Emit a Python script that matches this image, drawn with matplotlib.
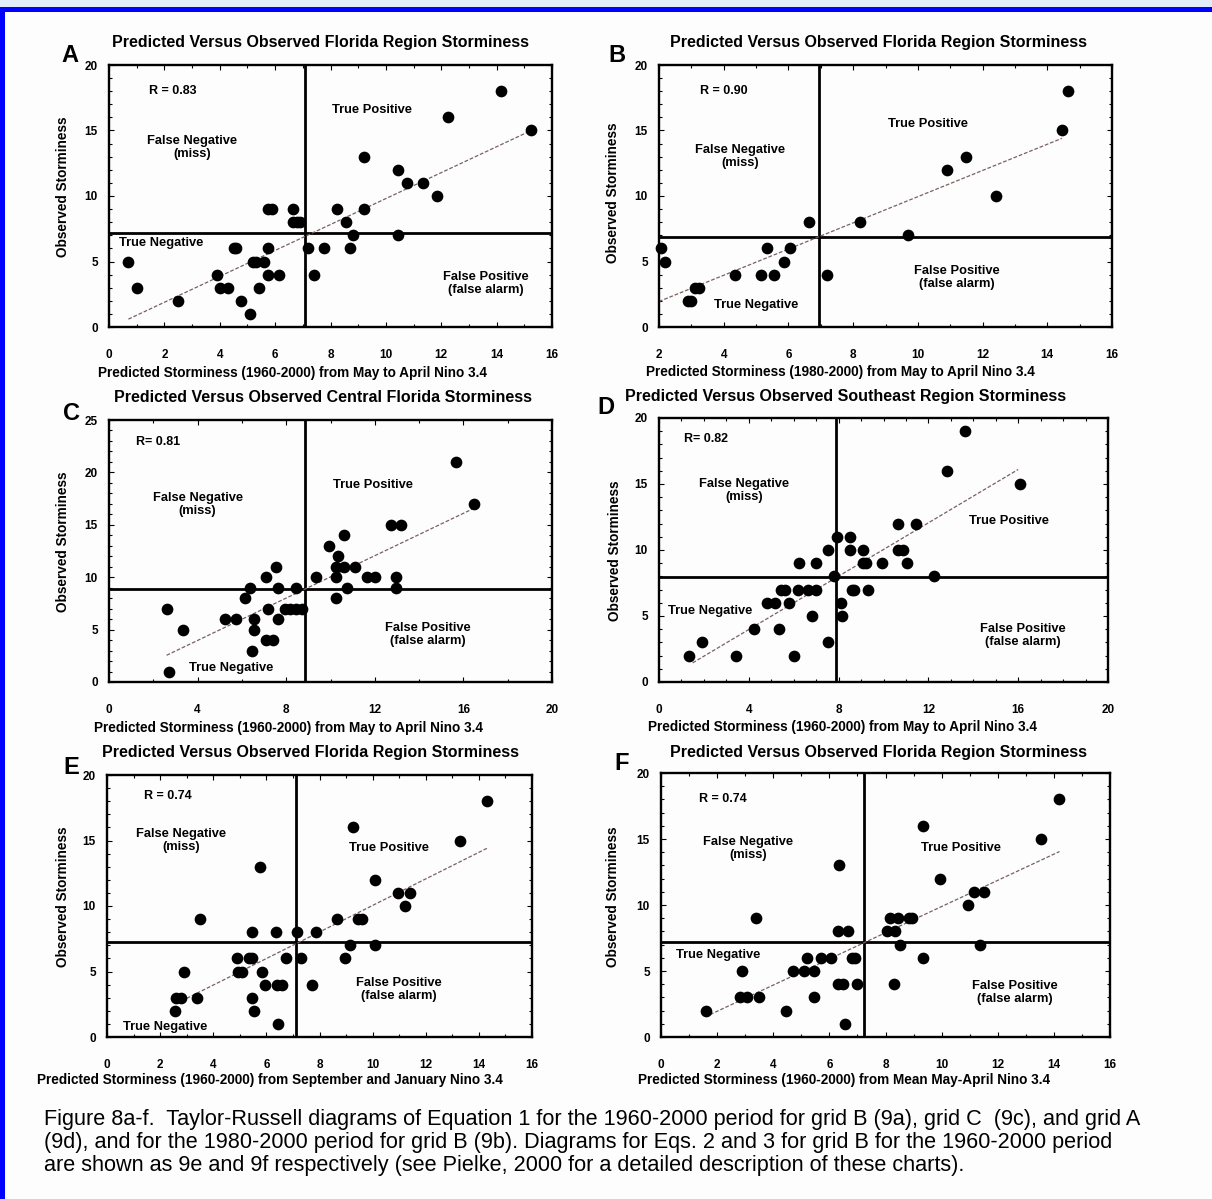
import matplotlib
matplotlib.use("Agg")
import matplotlib.pyplot as plt
from matplotlib.ticker import MultipleLocator
from matplotlib.patches import Rectangle

plt.rcParams['font.family'] = ['Liberation Sans', 'DejaVu Sans']

W, H = 1212, 1199

# ---- data ----
# A: Florida region, May-April Nino 3.4, 1960-2000
a_x = [0.7, 1.0, 2.5, 3.9, 4.0, 4.3, 4.5, 4.6, 4.75, 5.1, 5.2, 5.3, 5.6, 5.4, 5.75, 5.75, 6.15,
       5.75, 5.9, 6.65, 6.65, 6.8, 6.9, 7.2, 7.4, 7.75, 8.25, 8.55, 8.7, 8.8, 9.2, 9.2, 10.45,
       10.45, 10.75, 11.35, 11.85, 12.25, 14.15, 15.25]
a_y = [5, 3, 2, 4, 3, 3, 6, 6, 2, 1, 5, 5, 5, 3, 6, 4, 4,
       9, 9, 9, 8, 8, 8, 6, 4, 6, 9, 8, 6, 7, 9, 13, 12,
       7, 11, 11, 10, 16, 18, 15]
a_fit_x = [0.7, 15.25]
a_fit_y = [0.6, 15.0]
a_cut = (7.08, 7.2)

# B: Florida region, 1980-2000
b_x = [2.07, 2.2, 2.9, 3.0, 3.1, 3.25, 4.35, 5.15, 5.35, 5.55, 5.85, 6.05, 6.65, 7.2, 8.2,
       9.7, 10.9, 11.5, 12.4, 14.45, 14.65]
b_y = [6, 5, 2, 2, 3, 3, 4, 4, 6, 4, 5, 6, 8, 4, 8,
       7, 12, 13, 10, 15, 18]
b_fit_x = [2.0, 14.45]
b_fit_y = [1.95, 14.4]
b_cut = (6.95, 6.9)

# C: Central Florida
c_x = [2.6, 2.7, 3.35, 5.25, 5.75, 6.15, 6.35, 6.45, 6.55, 6.55, 7.1, 7.1, 7.4, 7.2, 7.55,
       7.65, 7.65, 7.95, 8.15, 8.45, 8.7, 8.45, 9.35, 9.95, 10.25, 10.25, 10.35, 10.25, 10.6,
       10.6, 10.75, 11.1, 11.65, 12.0, 12.75, 13.2, 12.95, 12.95, 15.65, 16.5]
c_y = [7, 1, 5, 6, 6, 8, 9, 3, 6, 5, 10, 4, 4, 7, 11,
       9, 6, 7, 7, 7, 7, 9, 10, 13, 10, 8, 12, 11, 11,
       14, 9, 11, 10, 10, 15, 15, 10, 9, 21, 17]
c_fit_x = [2.6, 16.4]
c_fit_y = [2.55, 16.5]
c_cut = (8.85, 8.85)

# D: Southeast region
d_x = [1.35, 1.9, 3.45, 4.25, 4.8, 5.15, 5.35, 5.45, 5.6, 5.8, 6.0, 6.2, 6.25, 6.65, 7.0,
       6.8, 7.0, 7.55, 7.55, 7.8, 7.95, 8.1, 8.15, 8.5, 8.5, 8.6, 8.7, 9.1, 9.1, 9.2, 9.3,
       9.95, 10.65, 10.65, 10.85, 11.05, 11.45, 12.25, 12.85, 13.65, 16.1]
d_y = [2, 3, 2, 4, 6, 6, 4, 7, 7, 6, 2, 7, 9, 7, 7,
       5, 9, 10, 3, 8, 11, 6, 5, 11, 10, 7, 7, 10, 9, 9, 7,
       9, 12, 10, 10, 9, 12, 8, 16, 19, 15]
d_fit_x = [1.5, 16.0]
d_fit_y = [1.45, 16.1]
d_cut = (7.9, 7.92)

# E: Florida region, September and January Nino 3.4
e_x = [2.55, 2.6, 2.8, 2.9, 3.4, 3.5, 4.9, 4.95, 5.1, 5.35, 5.45, 5.45, 5.45, 5.55, 5.75,
       5.85, 5.95, 6.35, 6.4, 6.6, 6.45, 6.75, 7.15, 7.3, 7.7, 7.85, 8.65, 8.95, 9.15, 9.25,
       9.45, 9.6, 10.1, 10.1, 10.95, 11.4, 11.2, 13.3, 14.3]
e_y = [2, 3, 3, 5, 3, 9, 6, 5, 5, 6, 6, 8, 3, 2, 13,
       5, 4, 8, 4, 4, 1, 6, 8, 6, 4, 8, 9, 6, 7, 16,
       9, 9, 12, 7, 11, 11, 10, 15, 18]
e_fit_x = [3.0, 14.3]
e_fit_y = [2.95, 14.4]
e_cut = (7.11, 7.26)

# F: Florida region, mean May-April Nino 3.4
f_x = [1.6, 2.8, 3.05, 2.9, 3.5, 3.4, 4.45, 4.7, 5.1, 5.45, 5.2, 5.45, 5.7, 6.05, 6.3,
       6.65, 6.35, 6.3, 6.5, 6.55, 6.8, 6.9, 7.0, 8.05, 8.35, 8.15, 8.45, 8.5, 8.3, 8.85,
       8.95, 9.35, 9.35, 9.95, 10.95, 11.15, 11.5, 11.35, 13.55, 14.2]
f_y = [2, 3, 3, 5, 3, 9, 2, 5, 5, 5, 6, 3, 6, 6, 8,
       8, 13, 4, 4, 1, 6, 6, 4, 8, 8, 9, 9, 7, 4, 9,
       9, 16, 6, 12, 10, 11, 11, 7, 15, 18]
f_fit_x = [1.75, 14.2]
f_fit_y = [1.7, 14.05]
f_cut = (7.22, 7.22)

TITLE_FL = 'Predicted Versus Observed Florida Region Storminess'
XL_MAY = 'Predicted Storminess (1960-2000) from May to April Nino 3.4'

panels = [
    dict(letter='A', x=a_x, y=a_y, fx=a_fit_x, fy=a_fit_y, cut=a_cut,
         box=(109, 552, 65, 327), xlim=(0, 16), ylim=(0, 20), xmaj=2, xmin=1, ymaj=5, ymin=1,
         title=TITLE_FL, tpos=(321, 43), lpos=(70, 56), ylpos=(63, 187),
         xlabel=XL_MAY, xlpos=(293, 373), r='R = 0.83', rpos=(2.3, 18.0),
         tp=(9.5, 16.6), fn=(3.0, 13.7), tn=(1.9, 6.4), fp=(13.6, 3.3)),
    dict(letter='B', x=b_x, y=b_y, fx=b_fit_x, fy=b_fit_y, cut=b_cut,
         box=(659, 1112, 65, 327), xlim=(2, 16), ylim=(0, 20), xmaj=2, xmin=1, ymaj=5, ymin=1,
         title=TITLE_FL, tpos=(878, 43), lpos=(617, 55), ylpos=(613, 193),
         xlabel='Predicted Storminess (1980-2000) from May to April Nino 3.4', xlpos=(840, 372),
         r='R = 0.90', rpos=(4.0, 18.0),
         tp=(10.3, 15.5), fn=(4.5, 13.0), tn=(5.0, 1.65), fp=(11.2, 3.8)),
    dict(letter='C', x=c_x, y=c_y, fx=c_fit_x, fy=c_fit_y, cut=c_cut,
         box=(109, 552, 420, 682), xlim=(0, 20), ylim=(0, 25), xmaj=4, xmin=2, ymaj=5, ymin=1,
         title='Predicted Versus Observed Central Florida Storminess', tpos=(323, 397),
         lpos=(72, 413), ylpos=(63, 542),
         xlabel=XL_MAY, xlpos=(288, 728), r='R= 0.81', rpos=(2.2, 22.9),
         tp=(11.9, 18.8), fn=(4.0, 16.9), tn=(5.5, 1.35), fp=(14.4, 4.5)),
    dict(letter='D', x=d_x, y=d_y, fx=d_fit_x, fy=d_fit_y, cut=d_cut,
         box=(659, 1108, 418, 682), xlim=(0, 20), ylim=(0, 20), xmaj=4, xmin=1, ymaj=5, ymin=1,
         title='Predicted Versus Observed Southeast Region Storminess', tpos=(846, 396),
         lpos=(606, 408), ylpos=(615, 551),
         xlabel=XL_MAY, xlpos=(843, 727), r='R= 0.82', rpos=(2.1, 18.4),
         tp=(15.6, 12.2), fn=(3.8, 14.5), tn=(2.3, 5.4), fp=(16.2, 3.5)),
    dict(letter='E', x=e_x, y=e_y, fx=e_fit_x, fy=e_fit_y, cut=e_cut,
         box=(107, 532, 775, 1037), xlim=(0, 16), ylim=(0, 20), xmaj=2, xmin=1, ymaj=5, ymin=1,
         title=TITLE_FL, tpos=(310, 753), lpos=(71, 767), ylpos=(63, 897),
         xlabel='Predicted Storminess (1960-2000) from September and January Nino 3.4',
         xlpos=(270, 1080), r='R = 0.74', rpos=(2.3, 18.4),
         tp=(10.6, 14.4), fn=(2.8, 15.0), tn=(2.2, 0.8), fp=(11.0, 3.6)),
    dict(letter='F', x=f_x, y=f_y, fx=f_fit_x, fy=f_fit_y, cut=f_cut,
         box=(661, 1110, 773, 1037), xlim=(0, 16), ylim=(0, 20), xmaj=2, xmin=1, ymaj=5, ymin=1,
         title=TITLE_FL, tpos=(878, 753), lpos=(622, 763), ylpos=(613, 897),
         xlabel='Predicted Storminess (1960-2000) from Mean May-April Nino 3.4',
         xlpos=(844, 1080), r='R = 0.74', rpos=(2.2, 18.0),
         tp=(10.7, 14.3), fn=(3.1, 14.3), tn=(2.05, 6.2), fp=(12.6, 3.4)),
]

fig = plt.figure(figsize=(W / 100, H / 100), dpi=100)
fig.patch.set_facecolor('#fdfdfd')

# blue frame of the original web page
fig.add_artist(Rectangle((0, 1 - 7 / H), 1, 7 / H, transform=fig.transFigure,
                         facecolor='#e2ecf8', edgecolor='none'))
fig.add_artist(Rectangle((0, 1 - 12 / H), 1, 5 / H, transform=fig.transFigure,
                         facecolor='#0000ff', edgecolor='none'))
fig.add_artist(Rectangle((0, 0), 5 / W, 1 - 7 / H, transform=fig.transFigure,
                         facecolor='#0000ff', edgecolor='none'))


def fx(px):
    return px / W


def fy(py):
    return 1 - py / H


for p in panels:
    l, r, t, b = p['box']
    ax = fig.add_axes([l / W, 1 - b / H, (r - l) / W, (b - t) / H])
    ax.set_facecolor('#fdfdfd')
    ax.set_xlim(*p['xlim'])
    ax.set_ylim(*p['ylim'])
    ax.xaxis.set_major_locator(MultipleLocator(p['xmaj']))
    ax.xaxis.set_minor_locator(MultipleLocator(p['xmin']))
    ax.yaxis.set_major_locator(MultipleLocator(p['ymaj']))
    ax.yaxis.set_minor_locator(MultipleLocator(p['ymin']))
    ax.tick_params(which='both', direction='in', top=True, right=True, width=0.8)
    ax.tick_params(which='major', length=3.5)
    ax.tick_params(which='minor', length=2)
    ax.tick_params(axis='x', which='major', pad=16, labelsize=8.5)
    ax.tick_params(axis='y', which='major', pad=8, labelsize=8.5)
    for lab in ax.get_xticklabels() + ax.get_yticklabels():
        lab.set_fontweight('bold')
    for s in ax.spines.values():
        s.set_linewidth(1.7)

    ax.axvline(p['cut'][0], color='black', lw=2.0)
    ax.axhline(p['cut'][1], color='black', lw=2.0)
    ax.plot(p['fx'], p['fy'], color='#7a6060', lw=0.9, ls=(0, (3, 1.5)))
    ax.scatter(p['x'], p['y'], s=55, color='black', zorder=3, clip_on=False)

    kw = dict(fontsize=9.3, fontweight='bold', ha='center', va='center')
    ax.text(*p['rpos'], p['r'], fontsize=9, fontweight='bold', ha='center', va='center')
    ax.text(*p['tp'], 'True Positive', **kw)
    ax.text(*p['fn'], 'False Negative\n(miss)', linespacing=1.1, **kw)
    ax.text(*p['tn'], 'True Negative', **kw)
    ax.text(*p['fp'], 'False Positive\n(false alarm)', linespacing=1.1, **kw)

    fig.text(fx(p['tpos'][0]), fy(p['tpos'][1]), p['title'], fontsize=11.5,
             fontweight='bold', ha='center', va='center')
    fig.text(fx(p['lpos'][0]), fy(p['lpos'][1]), p['letter'], fontsize=17,
             fontweight='bold', ha='center', va='center')
    fig.text(fx(p['ylpos'][0]), fy(p['ylpos'][1]), 'Observed Storminess', fontsize=9.8,
             fontweight='bold', rotation=90, ha='center', va='center')
    fig.text(fx(p['xlpos'][0]), fy(p['xlpos'][1]), p['xlabel'], fontsize=9.8,
             fontweight='bold', ha='center', va='center')

caption = [
    'Figure 8a-f.  Taylor-Russell diagrams of Equation 1 for the 1960-2000 period for grid B (9a), grid C  (9c), and grid A',
    '(9d), and for the 1980-2000 period for grid B (9b). Diagrams for Eqs. 2 and 3 for grid B for the 1960-2000 period',
    'are shown as 9e and 9f respectively (see Pielke, 2000 for a detailed description of these charts).',
]
for i, line in enumerate(caption):
    fig.text(fx(44), fy(1120 + 22.5 * i), line, fontsize=15.6, ha='left', va='center')

fig.savefig('out.png', dpi=100, facecolor=fig.get_facecolor())
